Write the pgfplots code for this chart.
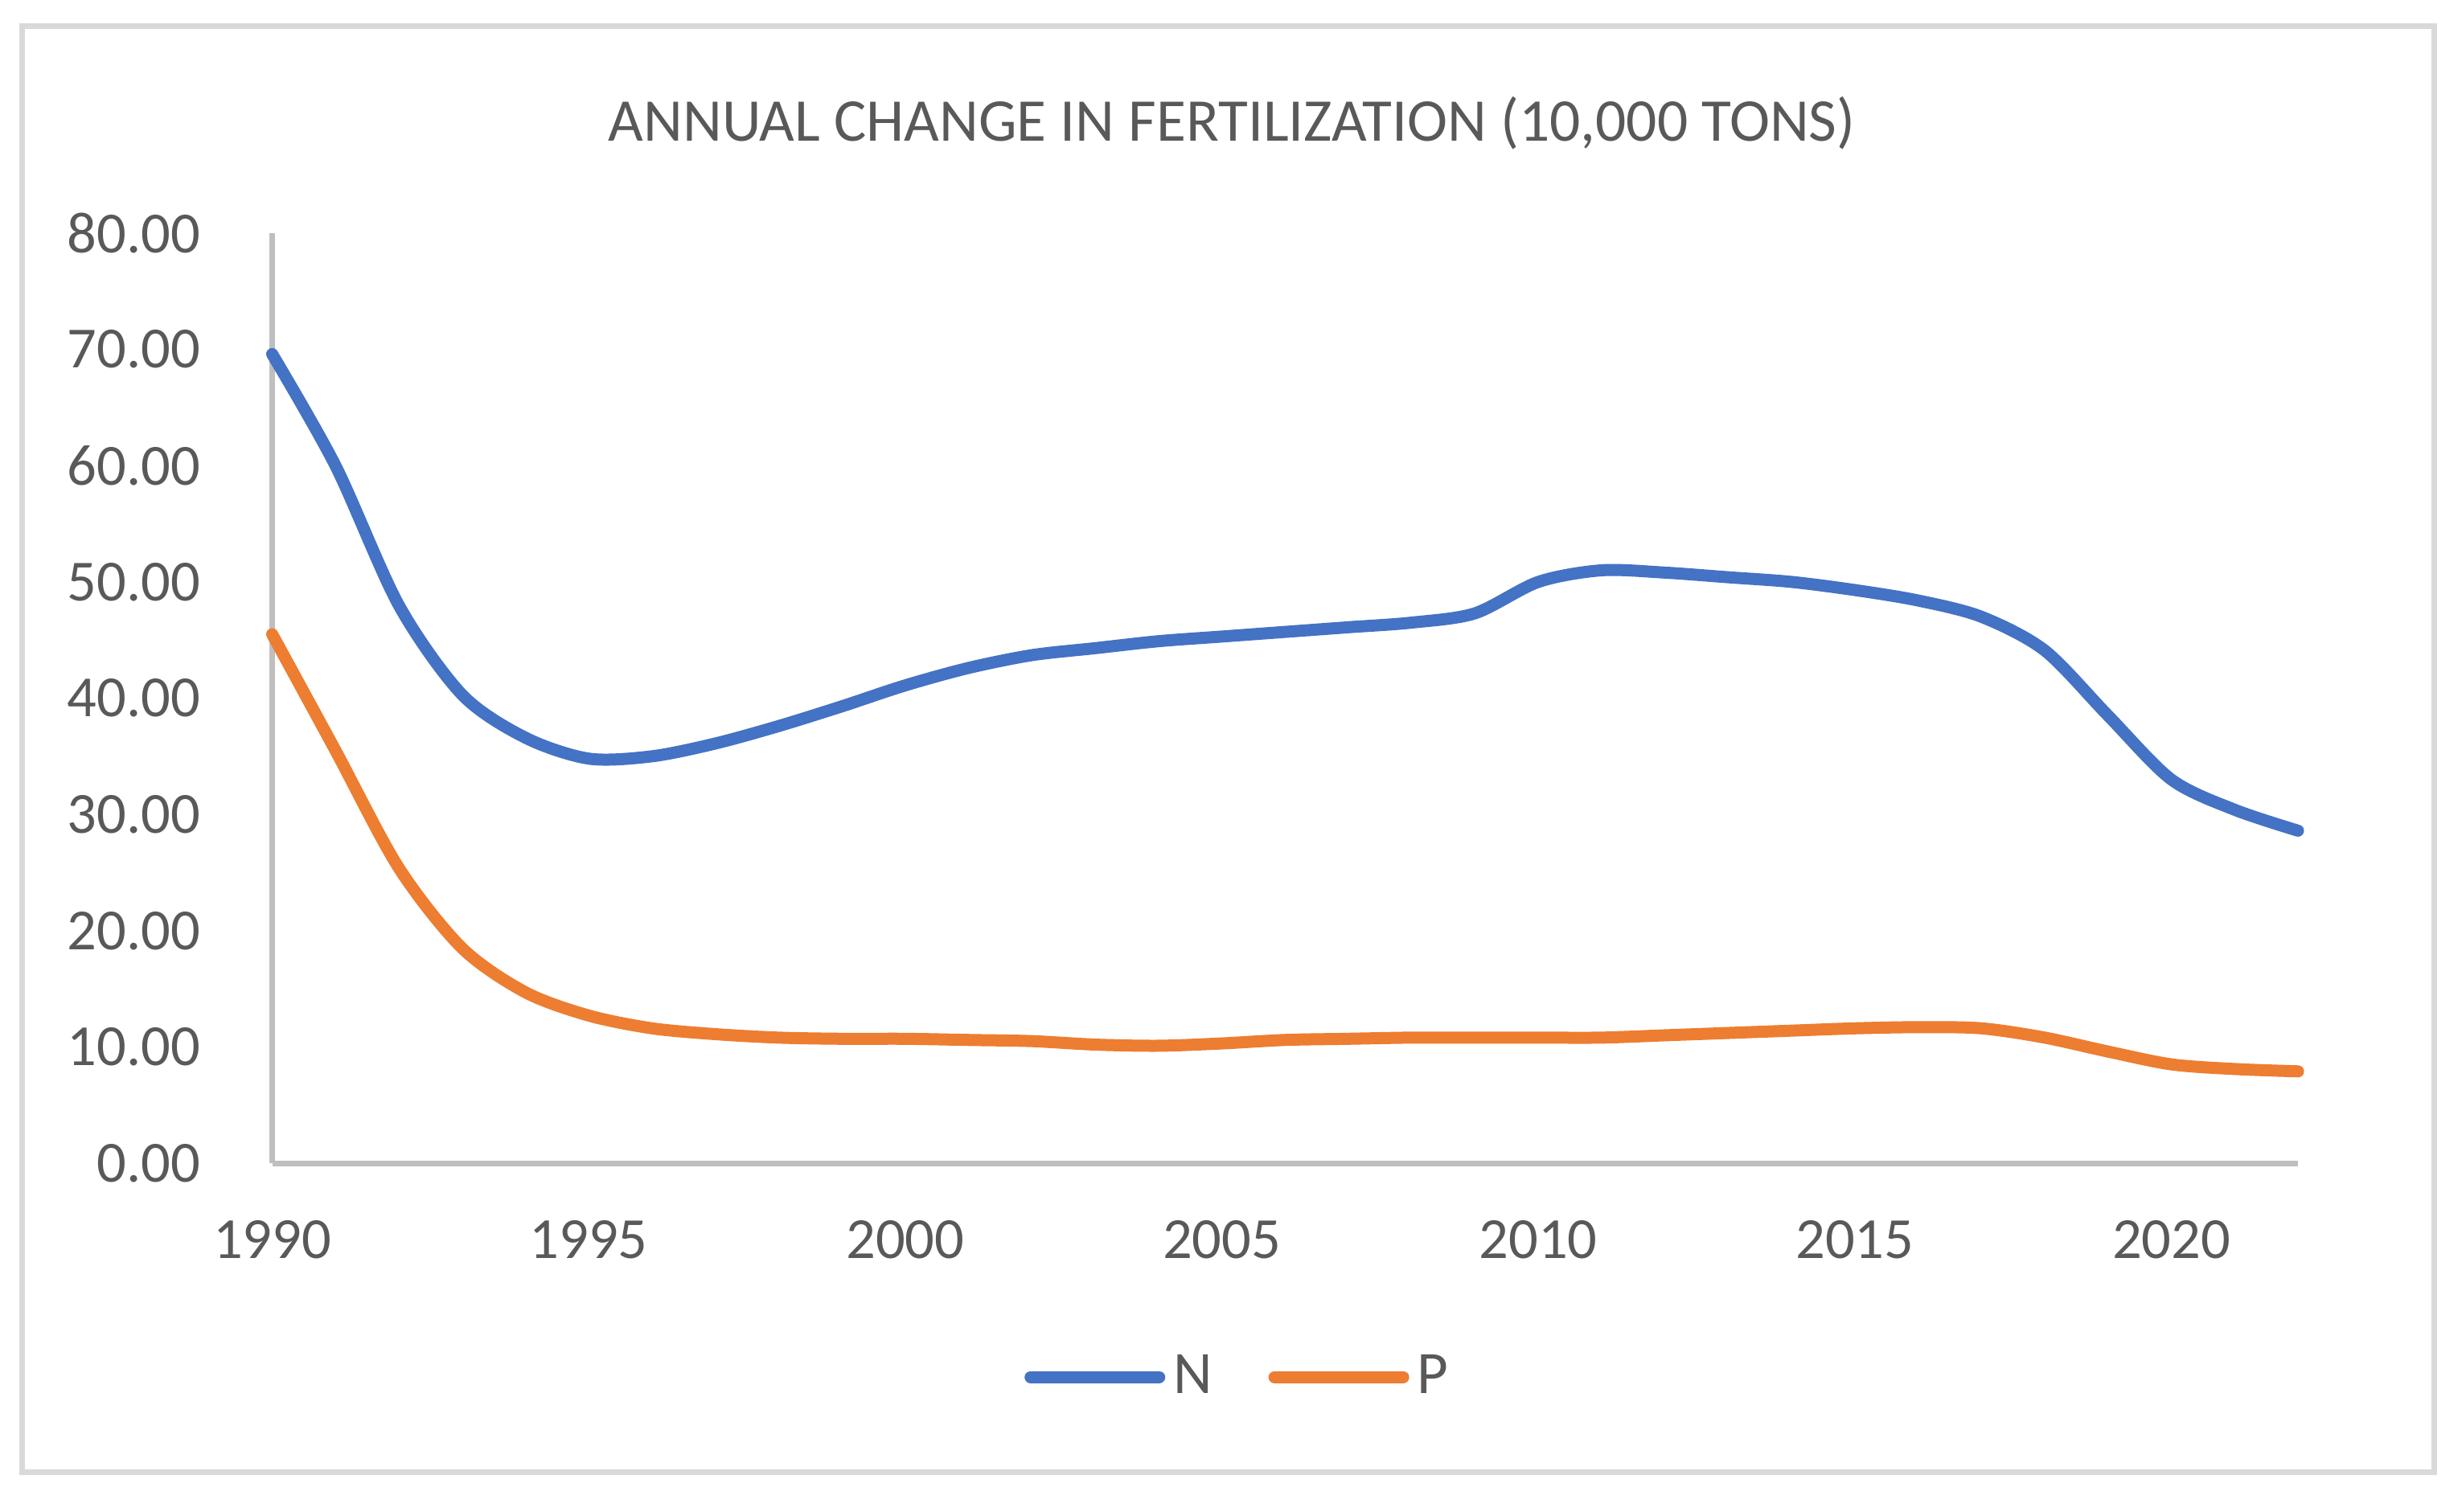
\documentclass[border=0pt]{standalone}
\usepackage{pgfplots}
\pgfplotsset{compat=1.18}
\usepackage{fontspec}
\setmainfont{Carlito}

\definecolor{nblue}{HTML}{4472C4}
\definecolor{porange}{HTML}{ED7D31}
\definecolor{txt}{HTML}{595959}
\definecolor{axgray}{HTML}{BFBFBF}
\definecolor{frame}{HTML}{D9D9D9}

\pgfplotstableread{
year N P
1990 69.6 45.5
1991 60.0 35.5
1992 48.0 25.4
1993 40.3 18.5
1994 36.6 14.7
1995 34.8 12.7
1996 35.0 11.6
1997 36.1 11.1
1998 37.6 10.8
1999 39.3 10.7
2000 41.1 10.7
2001 42.6 10.6
2002 43.7 10.5
2003 44.3 10.2
2004 44.9 10.1
2005 45.3 10.3
2006 45.7 10.6
2007 46.1 10.7
2008 46.5 10.8
2009 47.3 10.8
2010 50.0 10.8
2011 51.0 10.8
2012 50.8 11.0
2013 50.4 11.2
2014 50.0 11.4
2015 49.3 11.6
2016 48.4 11.7
2017 47.0 11.6
2018 44.1 10.8
2019 38.5 9.6
2020 33.0 8.5
2021 30.4 8.1
2022 28.6 7.9
}\fert

\begin{document}
\begin{tikzpicture}
\useasboundingbox (0,0) rectangle (612.4pt,-376pt);
\draw[frame, line width=1.4pt] (5.4pt,-6.4pt) rectangle (605.4pt,-366.2pt);
\node[txt, font=\fontsize{15.1}{18}\selectfont] at (306.4pt,-30.6pt)
  {ANNUAL CHANGE IN FERTILIZATION (10,000 TONS)};
\begin{axis}[
  at={(67.7pt,-289.4pt)}, anchor=south west,
  width=503.9pt, height=231.4pt, scale only axis,
  xmin=1990, xmax=2022, ymin=0, ymax=80,
  axis lines*=left,
  axis line style={axgray, line width=1.4pt, -},
  major tick length=0pt,
  xtick={1990,1995,...,2020},
  ytick={0,10,...,80},
  ticklabel style={txt, font=\fontsize{14.5}{17}\selectfont, inner sep=0pt},
  xticklabel style={anchor=center, yshift=-19pt,
    /pgf/number format/.cd, 1000 sep={}, assume math mode=true},
  yticklabel style={anchor=east, xshift=-17.7pt,
    /pgf/number format/.cd, fixed, fixed zerofill, precision=2, assume math mode=true},
  clip=false,
  legend columns=2,
  legend style={draw=none, fill=none, at={(0.478,-0.230)}, anchor=center,
    text=txt, font=\fontsize{15}{18}\selectfont,
    nodes={inner xsep=2pt},
    /tikz/every even column/.append style={column sep=12pt}},
  legend image code/.code={\draw[#1, line cap=round] (0pt,0pt) -- (32pt,0pt);},
]
\addplot[nblue, line width=3pt, smooth, line cap=round] table[x=year, y=N] {\fert};
\addlegendentry{N}
\addplot[porange, line width=3pt, smooth, line cap=round] table[x=year, y=P] {\fert};
\addlegendentry{P}
\end{axis}
\end{tikzpicture}
\end{document}
